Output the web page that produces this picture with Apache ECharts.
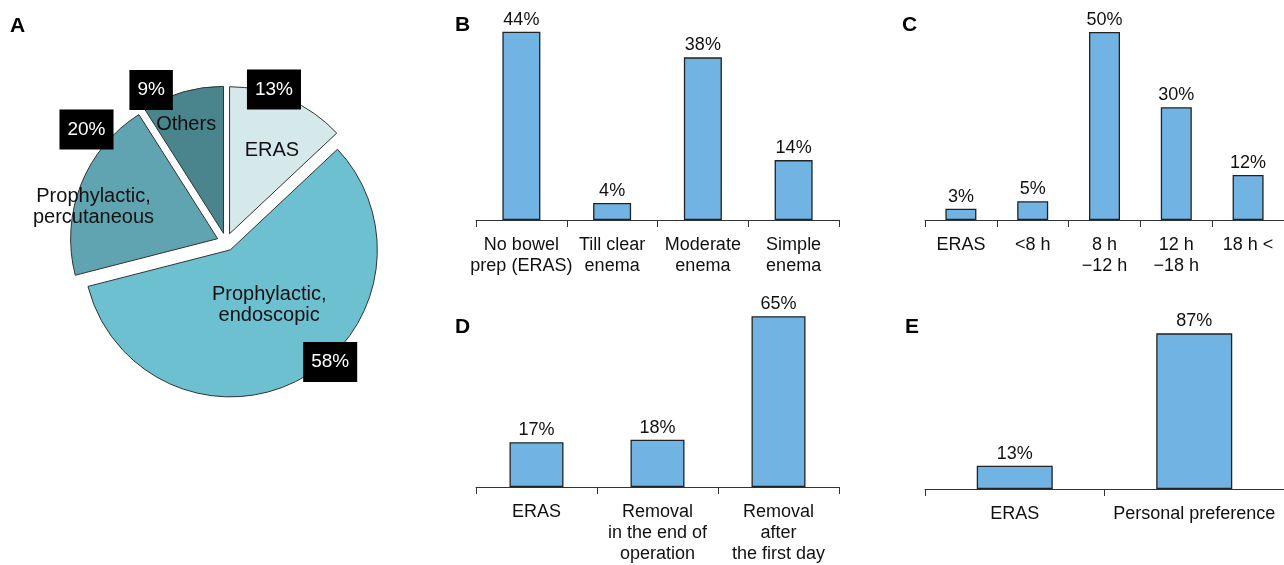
<!DOCTYPE html>
<html>
<head>
<meta charset="utf-8">
<script src="https://cdn.jsdelivr.net/npm/echarts@6/dist/echarts.min.js"></script>
<style>
  html, body { margin: 0; padding: 0; background: #fff; }
  #main { width: 1284px; height: 565px; }
</style>
</head>
<body>
<div id="main"></div>
<script>
// A: pie
var pieNames = ['ERAS', 'Prophylactic,\nendoscopic', 'Prophylactic,\npercutaneous', 'Others']
var pieValues = [13, 58, 20, 9]
var pieColors = ['#d5e9ea', '#6cc0cf', '#5fa4b0', '#4a848c']
// B
var bCats = ['No bowel\nprep (ERAS)', 'Till clear\nenema', 'Moderate\nenema', 'Simple\nenema']
var bValues = [44, 4, 38, 14]
// C
var cCats = ['ERAS', '<8 h', '8 h\n\u221212 h', '12 h\n\u221218 h', '18 h <']
var cValues = [3, 5, 50, 30, 12]
// D
var dCats = ['ERAS', 'Removal\nin the end of\noperation', 'Removal\nafter\nthe first day']
var dValues = [17, 18, 65]
// E
var eCats = ['ERAS', 'Personal preference']
var eValues = [13, 87]

;(function () {
    var myChart = echarts.init(document.querySelector('#main'))
    var font = 'Liberation Sans, Arial, sans-serif'
    var barColor = '#71b4e4'

    // label nudges for the pie (relative to where the library puts them)
    var nameOffsets = [[12, -13], [2, -12], [-53, -4], [-16, -35]]
    var pctOffsets = [[14, -74], [63, 45], [-60, -81], [-51, -70]]

    function pieData(withColor) {
        return pieValues.map(function (v, i) {
            var st = withColor
                ? { color: pieColors[i], borderColor: '#333', borderWidth: 1 }
                : { color: 'rgba(0,0,0,0)', borderWidth: 0 }
            return { name: pieNames[i], value: v, selected: true, itemStyle: st, select: { itemStyle: st } }
        })
    }
    function nudge(offsets) {
        return function (params) {
            var o = offsets[params.dataIndex]
            return { dx: o[0], dy: o[1] }
        }
    }

    var grids = [
        { left: 476, width: 363, top: 6, bottom: 345 },   // B
        { left: 925, width: 363, top: 32, bottom: 345 },  // C
        { left: 476, width: 363, top: 303, bottom: 76 },  // D
        { left: 925, width: 363, top: 328, bottom: 76 }   // E
    ]
    var cats = [bCats, cCats, dCats, eCats]
    var vals = [bValues, cValues, dValues, eValues]
    var maxes = [50, 50, 70, 90]
    var barWidths = [38, 31, 54, 76]

    var xAxis = [], yAxis = [], series = []
    for (var i = 0; i < 4; i++) {
        xAxis.push({
            type: 'category',
            gridIndex: i,
            data: cats[i],
            axisLine: { lineStyle: { color: '#333', width: 1 } },
            axisTick: { show: true, length: 7, lineStyle: { color: '#333' } },
            axisLabel: {
                interval: 0, color: '#111', fontFamily: font, fontSize: 18,
                lineHeight: 21, margin: 15
            }
        })
        yAxis.push({ type: 'value', gridIndex: i, min: 0, max: maxes[i], show: false, splitLine: { show: false } })
        series.push({
            type: 'bar',
            xAxisIndex: i,
            yAxisIndex: i,
            data: vals[i],
            barWidth: barWidths[i],
            itemStyle: { color: barColor, borderColor: '#222', borderWidth: 1.3 },
            label: {
                show: true, position: 'top', distance: 3,
                formatter: '{c}%', color: '#111', fontFamily: font, fontSize: 18
            },
            emphasis: { disabled: true },
            silent: true
        })
    }

    var pieBase = {
        type: 'pie',
        center: [226, 242],
        radius: 147,
        startAngle: 90,
        clockwise: true,
        selectedMode: 'multiple',
        selectedOffset: 9,
        silent: true,
        emphasis: { disabled: true },
        labelLine: { show: false }
    }
    // pie with names
    series.push(Object.assign({}, pieBase, {
        label: {
            show: true, position: 'inside', formatter: '{b}',
            color: '#111', fontFamily: font, fontSize: 20, lineHeight: 21
        },
        labelLayout: nudge(nameOffsets),
        data: pieData(true)
    }))
    // same pie again, only for the black percentage boxes
    series.push(Object.assign({}, pieBase, {
        label: {
            show: true, position: 'inside', formatter: '{c}%',
            color: '#fff', backgroundColor: '#000', padding: [10, 8],
            fontFamily: font, fontSize: 19, lineHeight: 20
        },
        labelLayout: nudge(pctOffsets),
        data: pieData(false)
    }))

    var letters = [['A', 10, 16], ['B', 455, 15], ['C', 902, 15], ['D', 455, 317], ['E', 905, 317]]
    var graphic = letters.map(function (l) {
        return {
            type: 'text', left: l[1], top: l[2],
            style: { text: l[0], fill: '#000', font: 'bold 21px ' + font }
        }
    })

    myChart.setOption({
        animation: false,
        backgroundColor: '#fff',
        grid: grids,
        xAxis: xAxis,
        yAxis: yAxis,
        series: series,
        graphic: graphic
    })
    window.addEventListener('resize', function () {
        myChart.resize()
    })
})()
</script>
</body>
</html>
